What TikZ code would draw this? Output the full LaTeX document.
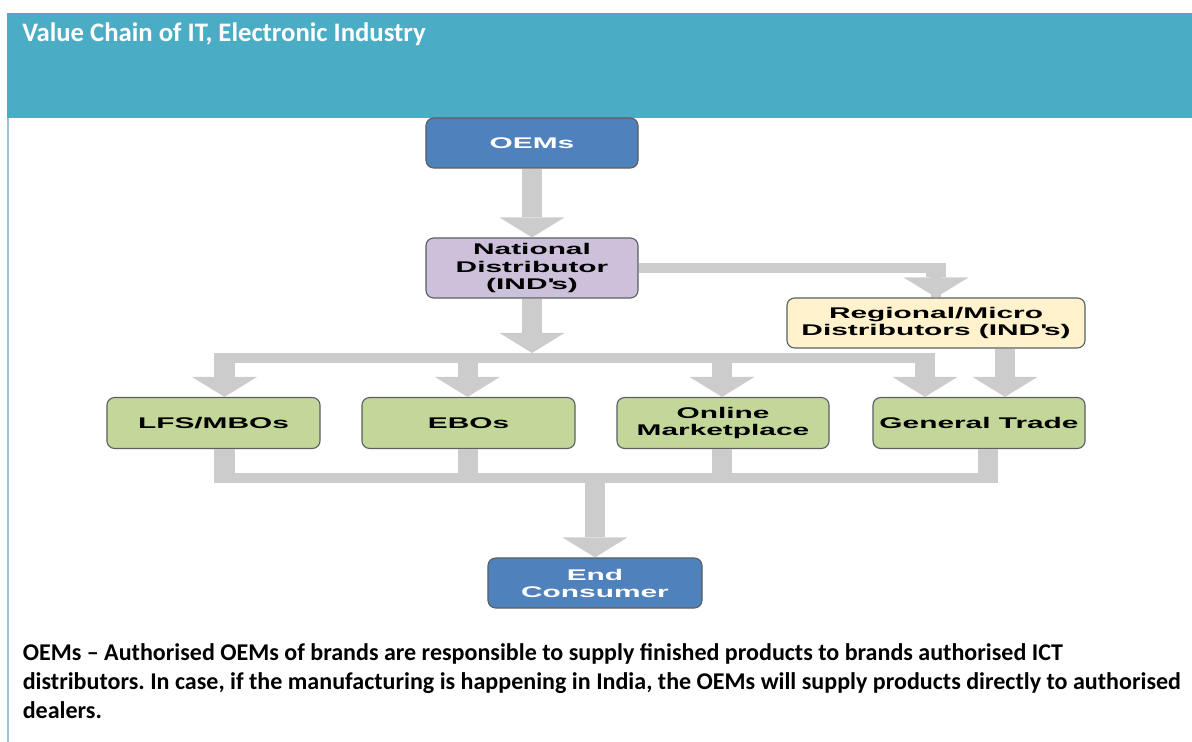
\documentclass[tikz,border=0pt]{standalone}
\usepackage{fontspec}
\setmainfont{Carlito}
\newfontfamily\boxfont[FakeStretch=1.93]{Liberation Sans}
\usetikzlibrary{calc}
\usetikzlibrary{arrows.meta}
\definecolor{headblue}{HTML}{4BACC6}
\definecolor{oemblue}{HTML}{4F81BD}
\definecolor{ndpurple}{HTML}{CCC0DA}
\definecolor{regyellow}{HTML}{FFF2CC}
\definecolor{retgreen}{HTML}{C4D79B}
\definecolor{flowgray}{HTML}{CCCCCC}
\definecolor{boxline}{HTML}{5A5F63}
\definecolor{edgeblue}{HTML}{9CC3DA}
\frenchspacing
\begin{document}
\begin{tikzpicture}[x=0.025cm,y=-0.025cm,
    box/.style={draw=boxline, line width=0.8pt, rounded corners=5.5pt, align=center,
      inner sep=0pt, font=\boxfont\bfseries\fontsize{11}{12.1}\selectfont},
    shaft/.style={draw=flowgray, line width=0.5cm,
      -{Triangle[length=0.5cm,width=1.625cm,line width=0pt]}},
    stub/.style={draw=flowgray, line width=0.5cm},
    bar/.style={draw=flowgray, line width=0.25cm}]
    \useasboundingbox (0,0) rectangle (1192,742);
    \fill [headblue] (7,13) rectangle (1192,118);
    \draw [edgeblue, line width=1.5pt] (8,118) -- (8,742);
    \node [anchor=base west, inner sep=0pt, text=white, font=\bfseries\fontsize{19}{22}\selectfont] (title) at (22,42) {Value Chain of IT, Electronic Industry};
    \node [box, fill=oemblue, text=white, minimum width=5.3cm, minimum height=1.25cm] (oem) at (532,143) {OEMs};
    \node [box, fill=ndpurple, minimum width=5.3cm, minimum height=1.5cm] (nd) at (532,268) {National\\Distributor\\(IND\textquotesingle s)};
    \node [box, fill=regyellow, minimum width=7.45cm, minimum height=1.25cm] (reg) at (936,323) {Regional/Micro\\Distributors (IND\textquotesingle s)};
    \node [box, fill=retgreen, minimum width=5.325cm, minimum height=1.275cm] (lfs) at (213.5,423) {LFS/MBOs};
    \node [box, fill=retgreen, minimum width=5.325cm, minimum height=1.275cm] (ebo) at (468.5,423) {EBOs};
    \node [box, fill=retgreen, minimum width=5.3cm, minimum height=1.275cm] (onl) at (723,423) {Online\\Marketplace};
    \node [box, fill=retgreen, minimum width=5.3cm, minimum height=1.275cm] (gt) at (979,423) {General Trade};
    \node [box, fill=oemblue, text=white, minimum width=5.35cm, minimum height=1.25cm] (endc) at (595,583) {End\\Consumer};
    \coordinate (dist) at (532,358);
    \coordinate (coll) at (595,478);
    % down from the top
    \draw [shaft] (oem) -- (nd);
    \draw [bar] (nd.east) -| (reg);
    \draw [shaft] ($(nd.east -| reg)+(0,-5)$) -- (reg);
    \draw [shaft] (nd) -- ($(dist)+(0,-5)$);
    % to the sellers
    \draw [bar] ($(lfs.north |- dist)+(1,0)$) -- ($(gt.north |- dist)+(-44,0)$);
    \draw [shaft] ($(lfs.north |- dist)+(11,-5)$) -- ($(lfs.north)+(11,0)$);
    \draw [shaft] ($(ebo.north |- dist)+(-1,-5)$) -- ($(ebo.north)+(-1,0)$);
    \draw [shaft] ($(onl.north |- dist)+(-1,-5)$) -- ($(onl.north)+(-1,0)$);
    \draw [shaft] ($(gt.north |- dist)+(-54,-5)$) -- ($(gt.north)+(-54,0)$);
    \draw [shaft] ($(reg.south)+(69,0)$) -- ($(gt.north)+(26,0)$);
    % to the consumer
    \draw [stub] ($(lfs.south)+(11,0)$) -- ($(lfs.south |- coll)+(11,5)$);
    \draw [stub] ($(ebo.south)+(-1,0)$) -- ($(ebo.south |- coll)+(-1,5)$);
    \draw [stub] ($(onl.south)+(-1,0)$) -- ($(onl.south |- coll)+(-1,5)$);
    \draw [stub] ($(gt.south)+(9,0)$) -- ($(gt.south |- coll)+(9,5)$);
    \draw [bar] ($(lfs.south |- coll)+(1,0)$) -- ($(gt.south |- coll)+(19,0)$);
    \draw [shaft] ($(coll)+(0,-5)$) -- (endc);
    \node [anchor=base west, inner sep=0pt, align=left, font=\bfseries\fontsize{17.1}{20.6}\selectfont] (note) at (22.5,718) {OEMs -- Authorised OEMs of brands are responsible to supply finished products to brands authorised ICT\\distributors. In case, if the manufacturing is happening in India, the OEMs will supply products directly to authorised\\dealers.};
  \end{tikzpicture}
\end{document}
